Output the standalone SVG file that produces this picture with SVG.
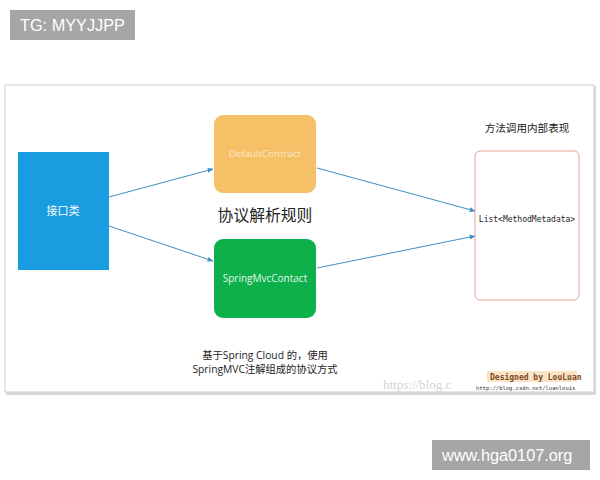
<svg xmlns="http://www.w3.org/2000/svg" width="600" height="480" viewBox="0 0 600 480">
<style>
.cn{font-family:"Noto Sans CJK SC","Noto Sans",sans-serif}
.lat{font-family:"Open Sans","Noto Sans CJK SC",sans-serif}
.mono{font-family:"DejaVu Sans Mono","Liberation Mono",monospace}
.conn{stroke:#3d8fc4;stroke-width:1;fill:none;marker-end:url(#ah)}
.badge{fill:#a6a6a6}
.badgeT{fill:#ffffff;font-family:"Liberation Sans",Arial,sans-serif;font-size:16.3px}
</style>
<defs>
<marker id="ah" viewBox="0 0 10 10" refX="9" refY="5" markerWidth="6" markerHeight="6" orient="auto" markerUnits="userSpaceOnUse">
<path d="M0,1 L10,5 L0,9 z" fill="#3d8fc4"/>
</marker>
</defs>
<rect width="600" height="480" fill="#ffffff"/>
<g id="frame">
<rect x="6" y="86" width="590" height="309" fill="#d9d9d9"/>
<rect x="5" y="85" width="589" height="307" fill="#ffffff" stroke="#cfcfcf" stroke-width="1"/>
</g>
<g id="connectors">
<line class="conn" x1="109" y1="197" x2="213" y2="169"/>
<line class="conn" x1="109" y1="226" x2="213" y2="261"/>
<line class="conn" x1="317" y1="168" x2="475" y2="211"/>
<line class="conn" x1="317" y1="268" x2="475" y2="236"/>
</g>
<g id="iface">
<rect x="18" y="152" width="91" height="118" fill="#1a9ce0"/>
<text x="63" y="215" class="cn" font-size="11" fill="#ffffff" text-anchor="middle">接口类</text>
</g>
<g id="default">
<rect x="214" y="115" width="102" height="78" rx="9" fill="#f6c067"/>
<text x="265" y="157" class="lat" font-size="9.8" fill="#fbe7c8" text-anchor="middle">DefaultContract</text>
</g>
<g id="springmvc">
<rect x="214" y="239" width="102" height="79" rx="9" fill="#0db04b"/>
<text x="265" y="282" class="lat" font-size="10" fill="#e6f7ec" text-anchor="middle">SpringMvcContact</text>
</g>
<g id="list">
<rect x="475" y="151" width="104" height="149" rx="5" fill="#ffffff" stroke="#e0a393" stroke-width="1"/>
<text x="527" y="222" class="mono" font-size="8" fill="#222222" text-anchor="middle">List&lt;MethodMetadata&gt;</text>
</g>
<g id="labels">
<text x="265" y="221" class="cn" font-size="15.8" fill="#222222" text-anchor="middle">协议解析规则</text>
<text x="527" y="132" class="cn" font-size="10.6" fill="#222222" text-anchor="middle">方法调用内部表现</text>
<text x="265" y="359" class="lat" font-size="10.3" fill="#222222" text-anchor="middle">基于Spring Cloud 的，使用</text>
<text x="265" y="373" class="lat" font-size="10.3" fill="#222222" text-anchor="middle">SpringMVC注解组成的协议方式</text>
</g>
<g id="watermark">
<text x="383" y="389" font-family="Liberation Serif,serif" font-size="13" fill="#d4d4d4">https://blog.c</text>
<rect x="487" y="371" width="90" height="11" fill="#fbe3c8"/>
<text x="490" y="380" class="mono" font-size="8" font-weight="bold" fill="#7a4a1a">Designed by LouLuan</text>
<text x="476" y="390" class="mono" font-size="5.5" fill="#333333">http://blog.csdn.net/luanlouis</text>
</g>
<g id="tg">
<rect class="badge" x="10" y="10" width="125" height="30"/>
<text class="badgeT" x="20" y="31">TG: MYYJJPP</text>
</g>
<g id="site">
<rect class="badge" x="432" y="440" width="158" height="30"/>
<text class="badgeT" x="442" y="461">www.hga0107.org</text>
</g>
</svg>
